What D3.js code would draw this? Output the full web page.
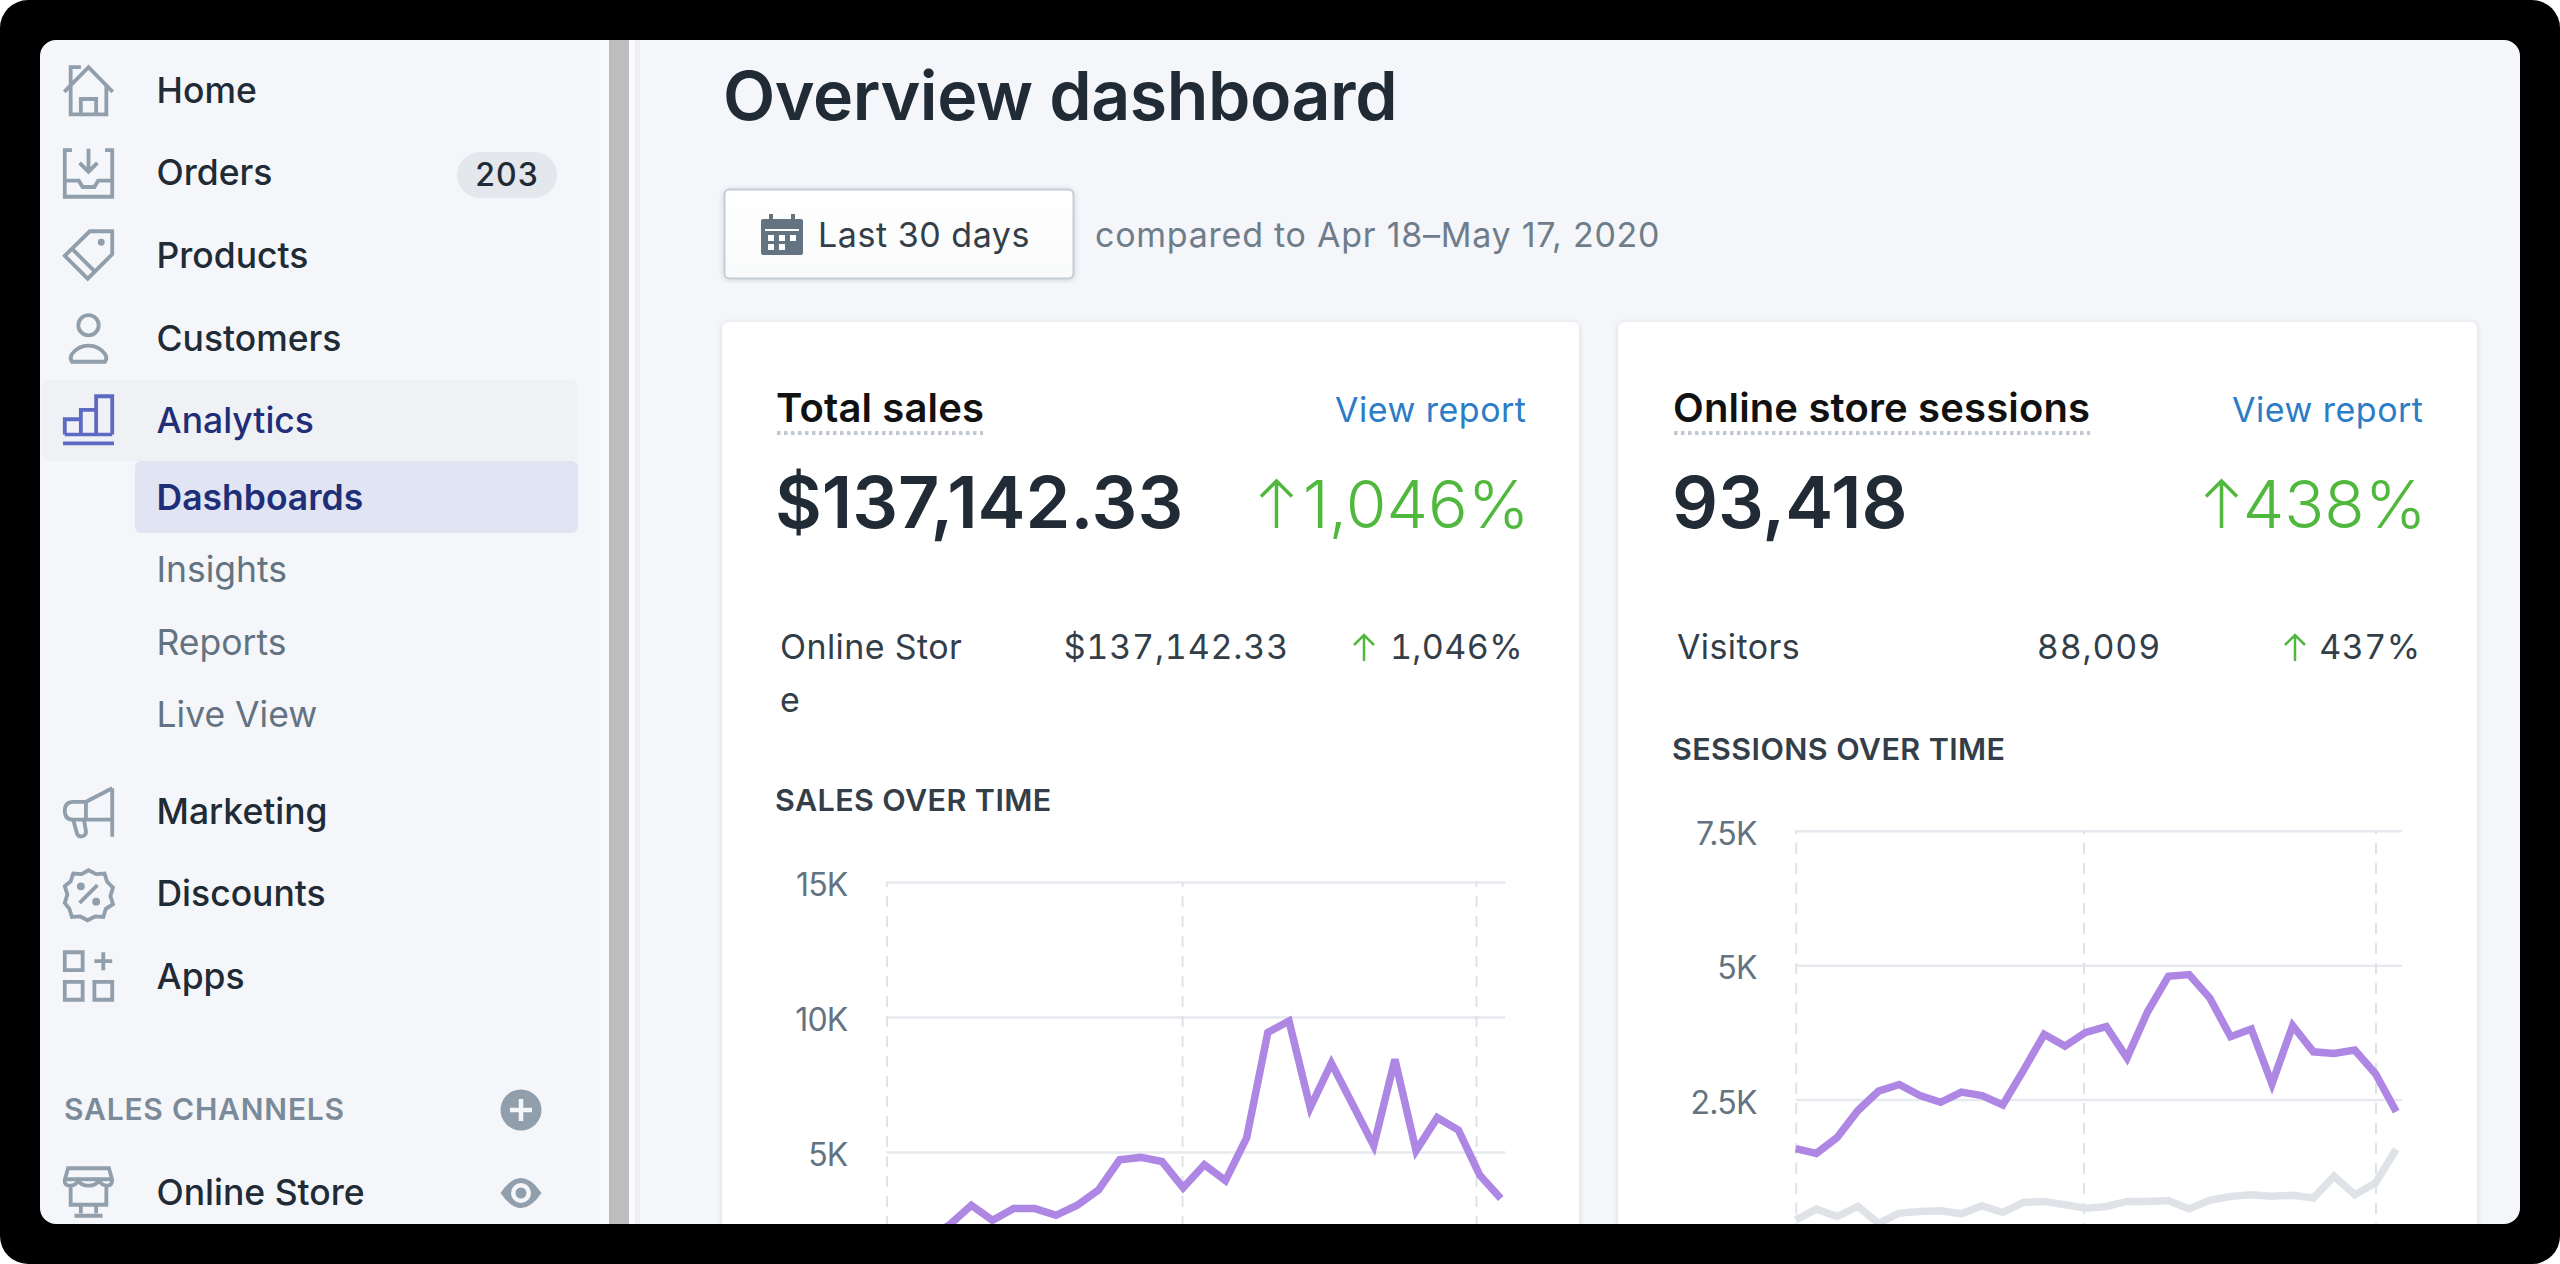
<!DOCTYPE html>
<html>
<head>
<meta charset="utf-8">
<title>Overview dashboard</title>
<script src="https://cdnjs.cloudflare.com/ajax/libs/d3/7.8.5/d3.min.js"></script>
<style>
  html, body { margin: 0; padding: 0; background: #fff; }
  svg { display: block; }
  text { font-family: Inter, "Noto Sans", sans-serif; }
  .tab { font-variant-numeric: tabular-nums; font-feature-settings: "tnum"; }
</style>
</head>
<body>
<svg id="page" width="2560" height="1264"></svg>
<script>
// first three sales values fall under the window edge, so they are guesses
var salesValues = [900, 1300, 1800, 2319, 3030, 2469, 2905, 2905, 2656, 3030, 3591, 4713, 4800, 4650, 3678,
  4526, 3940, 5524, 9427, 9851, 6646, 8292, 6771, 5237, 8429, 5050, 6272, 5810, 4152, 3279];
var sessionValues = [1588, 1500, 1794, 2294, 2656, 2781, 2575, 2450, 2638, 2575, 2400, 3044, 3713, 3494, 3750,
  3856, 3275, 4138, 4794, 4825, 4388, 3669, 3813, 2794, 3875, 3388, 3356, 3419, 2981, 2275];
var sessionPrevious = [262, 463, 325, 513, 200, 388, 419, 431, 375, 525, 400, 588, 606, 544, 481,
  513, 606, 606, 619, 469, 625, 700, 731, 700, 719, 669, 1075, 731, 950, 1575];

var salesTicks = [5000, 10000, 15000];
var salesTickLabels = ["5K", "10K", "15K"];
var sessionTicks = [0, 2500, 5000, 7500];
var sessionTickLabels = ["0", "2.5K", "5K", "7.5K"];
// the dashed date lines sit a little off the day kinks in the picture
var salesDashed = [0, 13.95, 27.83];
var sessionDashed = [0, 13.9, 28];

var navLabels = ["Home", "Orders", "Products", "Customers", "Analytics"];
var subNavLabels = ["Dashboards", "Insights", "Reports", "Live View"];
var lowerNavLabels = ["Marketing", "Discounts", "Apps"];

var page = "#f4f6fa", ink = "#212b36", soft = "#333e49", muted = "#637381", icon = "#919eab", indigo = "#202e78", iconIndigo = "#5c6ac4",
    green = "#50b83c", link = "#2c7cc6", purple = "#ae86e3", compare = "#dfe3e8", gridColor = "#e6e9ed";

var svg = d3.select("#page");
var defs = svg.append("defs");

defs.append("clipPath").attr("id", "win")
  .append("rect").attr("x", 40).attr("y", 40).attr("width", 2480).attr("height", 1184).attr("rx", 16);

var shadow = defs.append("filter").attr("id", "soft").attr("x", "-5%").attr("y", "-5%").attr("width", "110%").attr("height", "110%");
shadow.append("feDropShadow").attr("dx", 0).attr("dy", 1).attr("stdDeviation", 2.5).attr("flood-color", "#3f3f44").attr("flood-opacity", 0.18);

var btnGrad = defs.append("linearGradient").attr("id", "btn").attr("x1", 0).attr("x2", 0).attr("y1", 0).attr("y2", 1);
btnGrad.append("stop").attr("offset", 0).attr("stop-color", "#ffffff");
btnGrad.append("stop").attr("offset", 1).attr("stop-color", "#f9fafb");

// black screen frame
svg.append("rect").attr("width", 2560).attr("height", 1264).attr("rx", 28).attr("fill", "#000");

var win = svg.append("g").attr("clip-path", "url(#win)");
win.append("rect").attr("x", 40).attr("y", 40).attr("width", 2480).attr("height", 1184).attr("fill", page);

function label(parent, x, y, str, size, weight, fill, anchor, spacing) {
  return parent.append("text").attr("x", x).attr("y", y).text(str)
    .attr("font-size", size).attr("font-weight", weight).attr("fill", fill)
    .attr("text-anchor", anchor || "start")
    .attr("letter-spacing", spacing || 0);
}

/* ---------- sidebar ---------- */
var side = win.append("g");

side.append("rect").attr("x", 600).attr("y", 40).attr("width", 9).attr("height", 1184).attr("fill", "#f9fafb");
side.append("rect").attr("x", 609).attr("y", 40).attr("width", 20).attr("height", 1184).attr("fill", "#bdbdbd");
side.append("rect").attr("x", 629).attr("y", 40).attr("width", 6).attr("height", 1184).attr("fill", "#fafbfc");
side.append("rect").attr("x", 635).attr("y", 40).attr("width", 5).attr("height", 1184).attr("fill", "#eef0f3");

side.append("rect").attr("x", 42).attr("y", 380).attr("width", 536).attr("height", 81).attr("rx", 6).attr("fill", "#f0f1f5");
side.append("rect").attr("x", 135).attr("y", 461).attr("width", 443).attr("height", 72).attr("rx", 6).attr("fill", "#e1e5f3");

var navY = [103, 185, 268, 351, 433];
navLabels.forEach(function(d, i) {
  label(side, 156.5, navY[i], d, 35.5, 500, d == "Analytics" ? indigo : ink);
});
var subY = [510, 582, 655, 727];
subNavLabels.forEach(function(d, i) {
  label(side, 156.5, subY[i], d, 35.5, i == 0 ? 600 : 400, i == 0 ? indigo : muted);
});
var lowerY = [824, 906, 989];
lowerNavLabels.forEach(function(d, i) {
  label(side, 156.5, lowerY[i], d, 35.5, 500, ink);
});
label(side, 156.5, 1205, "Online Store", 35.5, 500, ink);
label(side, 64, 1120, "SALES CHANNELS", 30, 600, "#7b8a98", "start", 0.8);

side.append("rect").attr("x", 457).attr("y", 152).attr("width", 100).attr("height", 46).attr("rx", 23).attr("fill", "#e4e7eb");
label(side, 507, 186, "203", 32, 500, ink, "middle", 1);

function iconGroup(y, color) {
  return side.append("g").attr("transform", "translate(63," + (y - 25.5) + ") scale(2.55)")
    .attr("fill", "none").attr("stroke", color || icon).attr("stroke-width", 1.5);
}

var g = iconGroup(90.6);
g.append("path").attr("d", "M.5 10.5 10 .8l9.5 9.7M3 8v11.3h14V8M3 8V.8h4M7 19.3v-6h6v6");

g = iconGroup(173);
g.append("path").attr("d", "M3.5 1H.7v18.3h18.6V1h-2.8M.7 13h5.5l1.5 2.5h4.6l1.5-2.5h5.500M10 .5v9M6.500 6l3.500 3.500L13.500 6");

g = iconGroup(255);
g.append("path").attr("d", "M19.300.7v9L9.700 19.300.7 10.300 10.500.7zM3.500 7.500l9 9");
g.append("circle").attr("cx", 15).attr("cy", 5).attr("r", .6).attr("fill", icon);

g = iconGroup(338);
g.append("circle").attr("cx", 10).attr("cy", 5).attr("r", 4);
g.append("path").attr("d", "M3.500 19.300h13q1-1.500 0-3Q14 13 10 13t-6.500 3.300q-1 1.500 0 3z");

g = iconGroup(420, iconIndigo);
g.append("path").attr("d", "M.700 15.700v-6h6.300v6M7 15.700V6h6v9.700M13 15.700V.7h6.300v15");
g.append("path").attr("d", "M.7 15.700h18.600").attr("stroke-width", 1.4);
g.append("path").attr("d", "M0 19.200h20").attr("stroke-width", 1.5);

g = iconGroup(812);
g.append("path").attr("d", "M19.300.7v19M19.300.7 9 6H4Q.7 6 .7 9.500T4 13h15.300M9 6v7M4 13l1.500 5.500q.7 1.500 2.200 1t1.300-2l-.8-4.500");

g = iconGroup(894);
g.append("path").attr("d", "M10 .7l3 1.500 3.300-.2 1 3.200 2.300 2.300-1 3.300 1 3.200-2.800 1.800-1 3.200-3.200-.2-3 1.500-2.800-1.500-3.300.2-1-3.200L.7 13.500l1-3.300-1-3.300L3 5l1-3 3.300.2z");
g.append("path").attr("d", "M6.500 13.500 13.500 6.500");
g.append("circle").attr("cx", 7).attr("cy", 7).attr("r", .8).attr("fill", icon);
g.append("circle").attr("cx", 13).attr("cy", 13).attr("r", .8).attr("fill", icon);

g = iconGroup(976);
g.append("path").attr("d", "M.7.7h7v7h-7zM.7 12.300h7v7h-7zM12.300 12.300h7v7h-7zM15.800.7v7M12.300 4.200h7");

g = iconGroup(1192);
g.append("path").attr("d", "M2 .7h16l1.300 4.500q0 2.300-2 2.300T14 5.500q-1 2-4 2t-4-2Q5 7.500 2.700 7.500t-2-2.300zM.7 5h18.600M3 7.500V15h14V7.500M7 15v3.300M13 15v3.300M4.500 19.300h11");

// plus and eye beside the sales channels
side.append("circle").attr("cx", 521).attr("cy", 1110).attr("r", 20.500).attr("fill", icon);
side.append("path").attr("d", "M521 1099v22M510 1110h22").attr("stroke", page).attr("stroke-width", 4.5);
side.append("path").attr("d", "M500.500 1193q20.500-30 41 0q-20.500 30-41 0z").attr("fill", icon);
side.append("circle").attr("cx", 521).attr("cy", 1193).attr("r", 10).attr("fill", page);
side.append("circle").attr("cx", 521).attr("cy", 1193).attr("r", 5.5).attr("fill", icon);

/* ---------- header ---------- */
var main = win.append("g");
label(main, 723, 120, "Overview dashboard", 68, 600, ink, "start", -0.45);

main.append("rect").attr("x", 724.500).attr("y", 189.500).attr("width", 349).attr("height", 89).attr("rx", 5)
  .attr("fill", "url(#btn)").attr("stroke", "#c4cdd5").attr("stroke-width", 2).attr("filter", "url(#soft)");

// calendar icon
main.append("rect").attr("x", 761).attr("y", 219).attr("width", 42).attr("height", 36).attr("rx", 2).attr("fill", muted);
main.append("path").attr("d", "M771 214v9M793 214v9").attr("stroke", muted).attr("stroke-width", 4);
main.append("rect").attr("x", 765).attr("y", 229).attr("width", 34).attr("height", 2).attr("fill", "#fff");
[[768, 235], [779, 235], [790, 235], [768, 244], [779, 244]].forEach(function(p) {
  main.append("rect").attr("x", p[0]).attr("y", p[1]).attr("width", 6).attr("height", 6).attr("fill", "#fff");
});

label(main, 818, 247, "Last 30 days", 34, 400, soft, "start", 0.55);
label(main, 1095, 247, "compared to Apr 18–May 17, 2020", 34, 400, "#6f7d8a", "start", 0.75);

/* ---------- cards ---------- */
function card(x, w) {
  main.append("rect").attr("x", x).attr("y", 322).attr("width", w).attr("height", 1000).attr("rx", 6)
    .attr("fill", "#fff").attr("filter", "url(#soft)");
}
card(722, 857);
card(1618, 859);

function cardHead(titleX, titleEnd, title, linkEnd, big, arrowX, pct, sub, subValue, subRight, subArrowX, subPct, subPctEnd, chartTitle, chartTitleX, chartTitleY) {
  label(main, titleX - 1, 422, title, 40, 600, "#111", "start", 0.15);
  main.append("path").attr("d", "M" + titleX + " 433H" + titleEnd).attr("stroke", "#c0c8d2").attr("stroke-width", 4).attr("stroke-dasharray", "3.5 3.5");
  label(main, linkEnd, 422, "View report", 34, 400, link, "end", 0.5);
  label(main, titleX - 2, 528, big, 72, 600, ink);
  label(main, linkEnd + 3, 528, pct, 66, 300, green, "end");
  upArrow(arrowX, 481, 47, 31, 3.5);
  sub.forEach(function(s, i) {
    label(main, titleX + 3, 659 + i * 53, s, 34, 400, soft, "start", 0.4);
  });
  label(main, subRight, 659, subValue, 34, 400, soft, "end", 0.8).attr("class", "tab");
  upArrow(subArrowX, 635, 26, 20, 2.5);
  label(main, subPctEnd, 659, subPct, 34, 400, soft, "end", 0.4).attr("class", "tab");
  label(main, chartTitleX, chartTitleY, chartTitle, 30.5, 600, soft, "start", 0.4);
}

function upArrow(x, top, h, w, sw) {
  main.append("path")
    .attr("d", "M" + (x + w / 2) + " " + (top + h) + "V" + (top + 1) + "M" + x + " " + (top + w * 0.5) + "L" + (x + w / 2) + " " + top + "L" + (x + w) + " " + (top + w * 0.5))
    .attr("fill", "none").attr("stroke", green).attr("stroke-width", sw);
}

cardHead(777, 983, "Total sales", 1526.5, "$137,142.33", 1261, "1,046%", ["Online Stor", "e"], "$137,142.33", 1289, 1354, "1,046%", 1523, "SALES OVER TIME", 775, 811);
cardHead(1674, 2090, "Online store sessions", 2423.5, "93,418", 2206, "438%", ["Visitors"], "88,009", 2161, 2285, "437%", 2420.5, "SESSIONS OVER TIME", 1672, 760);

/* ---------- charts ---------- */
function drawChart(opts) {
  var x = d3.scaleLinear().domain([0, 29]).range([opts.left, opts.lineRight]);
  var y = d3.scaleLinear().domain(opts.domain).range(opts.yRange);
  var gridRight = opts.gridRight;

  var chart = main.append("g");

  var yAxis = chart.append("g").attr("transform", "translate(" + opts.left + ",0)")
    .call(d3.axisLeft(y)
      .tickValues(opts.ticks)
      .tickSize(-(gridRight - opts.left))
      .tickPadding(opts.left - opts.labelRight)
      .tickFormat(function(d, i) { return opts.tickLabels[i]; }));
  yAxis.select(".domain").remove();
  yAxis.selectAll("line").attr("stroke", gridColor).attr("stroke-width", 2.5);
  yAxis.selectAll("text").attr("font-size", 32).attr("font-family", "Inter").attr("fill", muted)
    .attr("letter-spacing", -0.8).attr("dy", "0.42em");

  var xAxis = chart.append("g").attr("transform", "translate(0," + opts.yRange[0] + ")")
    .call(d3.axisBottom(x).tickValues(opts.dashed).tickSize(-(opts.yRange[0] - opts.yRange[1])).tickFormat(""));
  xAxis.select(".domain").remove();
  xAxis.selectAll("line").attr("stroke", "#dfe3e8").attr("stroke-width", 2).attr("stroke-dasharray", "11 9");

  var line = d3.line().x(function(d, i) { return x(i); }).y(function(d) { return y(d); });
  opts.series.forEach(function(s) {
    chart.append("path").datum(s.values).attr("d", line)
      .attr("fill", "none").attr("stroke", s.color).attr("stroke-width", 7.5).attr("stroke-linejoin", "miter");
  });
}

drawChart({
  left: 886.6, lineRight: 1500.8, gridRight: 1505.4, labelRight: 847.5,
  domain: [0, 15000], yRange: [1287, 882],
  ticks: salesTicks, tickLabels: salesTickLabels, dashed: salesDashed,
  series: [{values: salesValues, color: purple}]
});
drawChart({
  left: 1795.7, lineRight: 2396.2, gridRight: 2401.9, labelRight: 1756.6,
  domain: [0, 7500], yRange: [1234, 830.7],
  ticks: sessionTicks, tickLabels: sessionTickLabels, dashed: sessionDashed,
  series: [{values: sessionPrevious, color: compare}, {values: sessionValues, color: purple}]
});
</script>
</body>
</html>
